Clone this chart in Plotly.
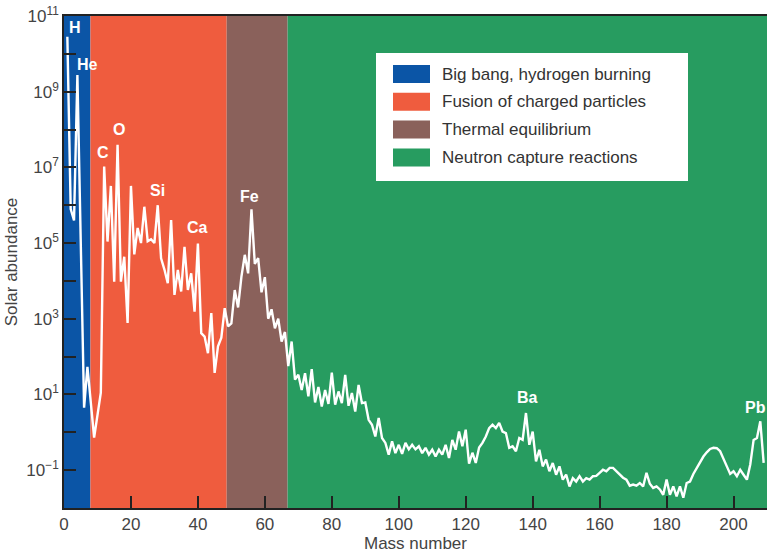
import plotly.graph_objects as go

# ---- data ----
mass_number = [1, 2, 3, 4, 6, 7, 9, 10, 11] + list(range(12, 210))
log_abundance = [
    10.45, 5.9, 5.6, 9.44, 0.65, 1.73, -0.14, 0.4, 1.05,          # 1-11
    7.02, 5.04, 6.51, 3.98, 7.6, 3.98, 4.64, 2.89, 6.51,            # 12-20
    4.7, 5.4, 5.0, 5.96, 5.05, 5.1, 5.0, 6.0, 4.6, 4.3,             # 21-30
    3.94, 5.61, 3.63, 4.29, 3.72, 4.9, 3.76, 4.2, 3.19, 4.99,       # 31-40
    2.62, 2.53, 2.09, 3.15, 1.57, 2.27, 2.5, 3.28, 2.8, 2.88,       # 41-50
    3.76, 3.3, 4.11, 4.69, 4.2, 5.89, 4.45, 4.6, 3.7, 4.1,          # 51-60
    3.0, 3.25, 2.75, 3.0, 2.4, 2.65, 1.75, 2.4, 1.39, 1.52,         # 61-70
    1.12, 1.56, 0.95, 1.67, 0.79, 1.2, 0.68, 1.12, 0.75, 1.58,      # 71-80
    0.73, 1.08, 0.77, 1.52, 0.70, 1.04, 0.55, 1.25, 0.77, 0.79,     # 81-90
    0.33, 0.2, -0.11, 0.38, -0.15, -0.28, -0.59, -0.24, -0.55, -0.33,   # 91-100
    -0.57, -0.28, -0.45, -0.33, -0.45, -0.37, -0.55, -0.41, -0.59, -0.46,  # 101-110
    -0.64, -0.46, -0.59, -0.33, -0.68, -0.2, -0.46, 0.02, -0.37, 0.07,     # 111-120
    -0.83, -0.54, -0.81, -0.4, -0.28, -0.11, 0.11, 0.2, 0.11, 0.25,        # 121-130
    0.02, -0.02, -0.41, -0.37, -0.5, -0.15, -0.2, 0.51, -0.33, 0.02,       # 131-140
    -0.77, -0.46, -0.9, -0.72, -1.03, -0.81, -1.12, -0.9, -1.25, -1.12,    # 141-150
    -1.43, -1.21, -1.3, -1.16, -1.3, -1.21, -1.25, -1.16, -1.15, -1.07,    # 151-160
    -0.99, -1.03, -0.94, -0.94, -1.03, -1.12, -1.2, -1.25, -1.41, -1.38,   # 161-170
    -1.41, -1.34, -1.43, -1.07, -1.36, -1.47, -1.43, -1.51, -1.65, -1.25,  # 171-180
    -1.65, -1.43, -1.69, -1.43, -1.73, -1.34, -1.3, -1.1, -0.94, -0.78,    # 181-190
    -0.64, -0.53, -0.44, -0.41, -0.42, -0.5, -0.72, -0.9, -1.1, -1.03,     # 191-200
    -1.16, -0.99, -1.12, -1.25, -0.85, -0.2, -0.15, 0.29, -0.81,           # 201-209
]
abundance = [10 ** v for v in log_abundance]

region_names = ["Big bang, hydrogen burning", "Fusion of charged particles",
                "Thermal equilibrium", "Neutron capture reactions"]
region_start = [0, 7.9, 48.6, 66.8]
region_end = [7.9, 48.6, 66.8, 210]
region_colors = ["#0b55a6", "#ef5c3e", "#8a615b", "#279c60"]

element_labels = ["H", "He", "C", "O", "Si", "Ca", "Fe", "Ba", "Pb"]
label_mass = [3.4, 7.0, 11.7, 16.5, 27.9, 39.9, 55.5, 138.5, 206.5]
label_log = [10.7, 9.73, 7.4, 8.01, 6.4, 5.4, 6.22, 0.91, 0.65]

y_label_exps = [-1, 1, 3, 5, 7, 9, 11]
y_minor_exps = list(range(-1, 11))
x_ticks = list(range(0, 201, 20))

FONT = "Liberation Sans, Arial, sans-serif"

fig = go.Figure()

# background bands
for x0, x1, c in zip(region_start, region_end, region_colors):
    fig.add_shape(type="rect", xref="x", yref="paper", x0=x0, x1=x1, y0=0, y1=1,
                  fillcolor=c, line_width=0, layer="below")

fig.add_trace(go.Scatter(x=mass_number, y=abundance, mode="lines",
                         line=dict(color="white", width=2.4), showlegend=False,
                         hoverinfo="skip"))

for t, xm, yl in zip(element_labels, label_mass, label_log):
    fig.add_annotation(x=xm, y=yl, xref="x", yref="y", text="<b>%s</b>" % t,
                       showarrow=False, font=dict(family=FONT, size=16, color="white"))

# manual legend (paper coordinates)
L, R, T, B = 64, 767, 16, 508
def px(xp):
    return (xp - L) / (R - L)
def py(yp):
    return (B - yp) / (B - T)

fig.add_shape(type="rect", xref="paper", yref="paper", x0=px(376), x1=px(688),
              y0=py(181), y1=py(53), fillcolor="white", line=dict(color="white", width=0))
for i, (name, c) in enumerate(zip(region_names, region_colors)):
    cy = 74 + i * 27.8
    fig.add_shape(type="rect", xref="paper", yref="paper", x0=px(393), x1=px(430),
                  y0=py(cy + 9), y1=py(cy - 9), fillcolor=c, line_width=0)
    fig.add_annotation(xref="paper", yref="paper", x=px(440), y=py(cy), text=name,
                       xanchor="left", yanchor="middle", showarrow=False,
                       font=dict(family=FONT, size=17, color="#333333"))

fig.update_layout(
    width=767, height=554,
    margin=dict(l=64, r=0, t=16, b=46, autoexpand=False),
    paper_bgcolor="white", plot_bgcolor="white",
    font=dict(family=FONT, size=17, color="#444444"),
    showlegend=False,
)
fig.update_xaxes(
    range=[0, 210], tickvals=x_ticks, ticks="inside", ticklen=12, tickwidth=1.5,
    tickcolor="#222222", showgrid=False, zeroline=False, automargin=False,
    showline=True, linecolor="#222222", linewidth=1.5, mirror=True,
    title=dict(text="Mass number", standoff=2, font=dict(size=17, color="#444444")),
    tickfont=dict(size=17, color="#444444"),
)
fig.update_yaxes(
    type="log", range=[-2, 11], automargin=False,
    tickvals=[10 ** e for e in y_label_exps],
    ticktext=["10<sup>%s</sup>" % str(e).replace("-", "\u2212") for e in y_label_exps],
    ticks="inside", ticklen=12, tickwidth=1.5, tickcolor="#222222",
    minor=dict(tickvals=[10 ** e for e in y_minor_exps], ticks="inside", ticklen=12,
               tickwidth=1.5, tickcolor="#222222", showgrid=False),
    showgrid=False, zeroline=False,
    showline=True, linecolor="#222222", linewidth=1.5, mirror=True,
    title=dict(text="Solar abundance", standoff=4, font=dict(size=17, color="#444444")),
    tickfont=dict(size=17, color="#444444"),
)

fig.write_html("out.html", config={"displayModeBar": False},
               post_script="document.body.style.margin='0';document.body.style.padding='0';")
